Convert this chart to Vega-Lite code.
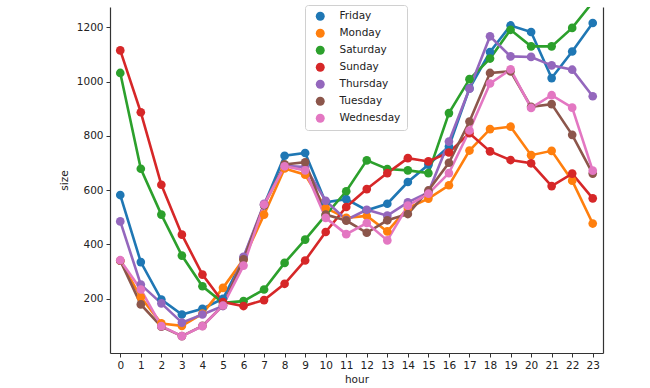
{
  "$schema": "https://vega.github.io/schema/vega-lite/v6.json",
  "autosize": {"type": "none"},
  "width": 493,
  "height": 346,
  "padding": {"left": 110, "top": 7, "right": 47, "bottom": 35},
  "background": "white",
  "config": {
    "font": "DejaVu Sans",
    "view": {"stroke": null},
    "axis": {"labelFont": "DejaVu Sans", "titleFont": "DejaVu Sans", "labelFontSize": 10.5, "titleFontSize": 10.5, "titleFontWeight": "normal", "labelColor": "#222", "titleColor": "#222", "domainColor": "#333", "tickColor": "#333", "tickSize": 4, "grid": false, "domainWidth": 1.2}
  },
  "data": {"values": [
    {"day":"Friday","hour":0,"size":582},{"day":"Friday","hour":1,"size":335},{"day":"Friday","hour":2,"size":197},{"day":"Friday","hour":3,"size":142},{"day":"Friday","hour":4,"size":163},{"day":"Friday","hour":5,"size":200},{"day":"Friday","hour":6,"size":350},{"day":"Friday","hour":7,"size":545},{"day":"Friday","hour":8,"size":727},{"day":"Friday","hour":9,"size":737},{"day":"Friday","hour":10,"size":555},{"day":"Friday","hour":11,"size":567},{"day":"Friday","hour":12,"size":526},{"day":"Friday","hour":13,"size":550},{"day":"Friday","hour":14,"size":630},{"day":"Friday","hour":15,"size":694},{"day":"Friday","hour":16,"size":761},{"day":"Friday","hour":17,"size":975},{"day":"Friday","hour":18,"size":1109},{"day":"Friday","hour":19,"size":1207},{"day":"Friday","hour":20,"size":1183},{"day":"Friday","hour":21,"size":1013},{"day":"Friday","hour":22,"size":1111},{"day":"Friday","hour":23,"size":1216},
    {"day":"Monday","hour":0,"size":340},{"day":"Monday","hour":1,"size":205},{"day":"Monday","hour":2,"size":109},{"day":"Monday","hour":3,"size":100},{"day":"Monday","hour":4,"size":145},{"day":"Monday","hour":5,"size":240},{"day":"Monday","hour":6,"size":345},{"day":"Monday","hour":7,"size":510},{"day":"Monday","hour":8,"size":680},{"day":"Monday","hour":9,"size":657},{"day":"Monday","hour":10,"size":534},{"day":"Monday","hour":11,"size":498},{"day":"Monday","hour":12,"size":505},{"day":"Monday","hour":13,"size":448},{"day":"Monday","hour":14,"size":534},{"day":"Monday","hour":15,"size":569},{"day":"Monday","hour":16,"size":618},{"day":"Monday","hour":17,"size":746},{"day":"Monday","hour":18,"size":825},{"day":"Monday","hour":19,"size":834},{"day":"Monday","hour":20,"size":729},{"day":"Monday","hour":21,"size":745},{"day":"Monday","hour":22,"size":635},{"day":"Monday","hour":23,"size":477},
    {"day":"Saturday","hour":0,"size":1032},{"day":"Saturday","hour":1,"size":679},{"day":"Saturday","hour":2,"size":510},{"day":"Saturday","hour":3,"size":359},{"day":"Saturday","hour":4,"size":246},{"day":"Saturday","hour":5,"size":185},{"day":"Saturday","hour":6,"size":191},{"day":"Saturday","hour":7,"size":234},{"day":"Saturday","hour":8,"size":332},{"day":"Saturday","hour":9,"size":418},{"day":"Saturday","hour":10,"size":508},{"day":"Saturday","hour":11,"size":596},{"day":"Saturday","hour":12,"size":710},{"day":"Saturday","hour":13,"size":678},{"day":"Saturday","hour":14,"size":673},{"day":"Saturday","hour":15,"size":663},{"day":"Saturday","hour":16,"size":884},{"day":"Saturday","hour":17,"size":1009},{"day":"Saturday","hour":18,"size":1085},{"day":"Saturday","hour":19,"size":1191},{"day":"Saturday","hour":20,"size":1130},{"day":"Saturday","hour":21,"size":1130},{"day":"Saturday","hour":22,"size":1198},{"day":"Saturday","hour":23,"size":1293},
    {"day":"Sunday","hour":0,"size":1115},{"day":"Sunday","hour":1,"size":887},{"day":"Sunday","hour":2,"size":620},{"day":"Sunday","hour":3,"size":436},{"day":"Sunday","hour":4,"size":289},{"day":"Sunday","hour":5,"size":188},{"day":"Sunday","hour":6,"size":173},{"day":"Sunday","hour":7,"size":195},{"day":"Sunday","hour":8,"size":255},{"day":"Sunday","hour":9,"size":341},{"day":"Sunday","hour":10,"size":446},{"day":"Sunday","hour":11,"size":538},{"day":"Sunday","hour":12,"size":604},{"day":"Sunday","hour":13,"size":663},{"day":"Sunday","hour":14,"size":718},{"day":"Sunday","hour":15,"size":706},{"day":"Sunday","hour":16,"size":739},{"day":"Sunday","hour":17,"size":810},{"day":"Sunday","hour":18,"size":743},{"day":"Sunday","hour":19,"size":711},{"day":"Sunday","hour":20,"size":699},{"day":"Sunday","hour":21,"size":615},{"day":"Sunday","hour":22,"size":661},{"day":"Sunday","hour":23,"size":570},
    {"day":"Thursday","hour":0,"size":485},{"day":"Thursday","hour":1,"size":252},{"day":"Thursday","hour":2,"size":183},{"day":"Thursday","hour":3,"size":112},{"day":"Thursday","hour":4,"size":142},{"day":"Thursday","hour":5,"size":173},{"day":"Thursday","hour":6,"size":354},{"day":"Thursday","hour":7,"size":550},{"day":"Thursday","hour":8,"size":690},{"day":"Thursday","hour":9,"size":685},{"day":"Thursday","hour":10,"size":561},{"day":"Thursday","hour":11,"size":490},{"day":"Thursday","hour":12,"size":528},{"day":"Thursday","hour":13,"size":506},{"day":"Thursday","hour":14,"size":555},{"day":"Thursday","hour":15,"size":592},{"day":"Thursday","hour":16,"size":779},{"day":"Thursday","hour":17,"size":974},{"day":"Thursday","hour":18,"size":1167},{"day":"Thursday","hour":19,"size":1093},{"day":"Thursday","hour":20,"size":1091},{"day":"Thursday","hour":21,"size":1060},{"day":"Thursday","hour":22,"size":1044},{"day":"Thursday","hour":23,"size":946},
    {"day":"Tuesday","hour":0,"size":340},{"day":"Tuesday","hour":1,"size":179},{"day":"Tuesday","hour":2,"size":97},{"day":"Tuesday","hour":3,"size":62},{"day":"Tuesday","hour":4,"size":100},{"day":"Tuesday","hour":5,"size":175},{"day":"Tuesday","hour":6,"size":345},{"day":"Tuesday","hour":7,"size":545},{"day":"Tuesday","hour":8,"size":695},{"day":"Tuesday","hour":9,"size":703},{"day":"Tuesday","hour":10,"size":510},{"day":"Tuesday","hour":11,"size":488},{"day":"Tuesday","hour":12,"size":443},{"day":"Tuesday","hour":13,"size":489},{"day":"Tuesday","hour":14,"size":512},{"day":"Tuesday","hour":15,"size":599},{"day":"Tuesday","hour":16,"size":701},{"day":"Tuesday","hour":17,"size":853},{"day":"Tuesday","hour":18,"size":1032},{"day":"Tuesday","hour":19,"size":1038},{"day":"Tuesday","hour":20,"size":907},{"day":"Tuesday","hour":21,"size":917},{"day":"Tuesday","hour":22,"size":804},{"day":"Tuesday","hour":23,"size":661},
    {"day":"Wednesday","hour":0,"size":342},{"day":"Wednesday","hour":1,"size":234},{"day":"Wednesday","hour":2,"size":99},{"day":"Wednesday","hour":3,"size":62},{"day":"Wednesday","hour":4,"size":99},{"day":"Wednesday","hour":5,"size":175},{"day":"Wednesday","hour":6,"size":322},{"day":"Wednesday","hour":7,"size":547},{"day":"Wednesday","hour":8,"size":688},{"day":"Wednesday","hour":9,"size":673},{"day":"Wednesday","hour":10,"size":498},{"day":"Wednesday","hour":11,"size":438},{"day":"Wednesday","hour":12,"size":479},{"day":"Wednesday","hour":13,"size":415},{"day":"Wednesday","hour":14,"size":543},{"day":"Wednesday","hour":15,"size":587},{"day":"Wednesday","hour":16,"size":663},{"day":"Wednesday","hour":17,"size":820},{"day":"Wednesday","hour":18,"size":993},{"day":"Wednesday","hour":19,"size":1045},{"day":"Wednesday","hour":20,"size":903},{"day":"Wednesday","hour":21,"size":950},{"day":"Wednesday","hour":22,"size":904},{"day":"Wednesday","hour":23,"size":672}
  ]},
  "encoding": {
    "x": {"field": "hour", "type": "ordinal", "scale": {"type": "point", "padding": 0.5}, "axis": {"labelAngle": 0, "title": "hour", "labelPadding": 3, "titlePadding": 4}},
    "color": {"field": "day", "type": "nominal",
      "scale": {"domain": ["Friday","Monday","Saturday","Sunday","Thursday","Tuesday","Wednesday"], "range": ["#1f77b4","#ff7f0e","#2ca02c","#d62728","#9467bd","#8c564b","#e377c2"]},
      "legend": {"orient": "none", "legendX": 195, "legendY": -2, "title": null, "symbolType": "circle", "symbolSize": 80, "symbolStrokeWidth": 0, "labelFont": "DejaVu Sans", "labelFontSize": 10.5, "labelColor": "#222", "rowPadding": 6, "padding": 6, "strokeColor": "#d0d0d0", "fillColor": "white", "cornerRadius": 3, "symbolOffset": 4, "labelOffset": 14}}
  },
  "layer": [
    {
      "mark": {"type": "line", "strokeWidth": 2.6, "clip": true},
      "encoding": {
        "y": {"field": "size", "type": "quantitative", "scale": {"domain": [0, 1275], "nice": false, "zero": false}, "axis": {"values": [200,400,600,800,1000,1200], "format": "d", "title": "size", "labelPadding": 3, "titlePadding": 7}}
      }
    },
    {
      "mark": {"type": "point", "filled": true, "size": 75, "opacity": 1, "clip": true},
      "encoding": {
        "y": {"field": "size", "type": "quantitative", "scale": {"domain": [0, 1275], "nice": false, "zero": false}, "axis": {"orient": "right", "labels": false, "ticks": false, "title": null, "domain": true}}
      }
    }
  ],
  "resolve": {"axis": {"y": "independent"}}
}
